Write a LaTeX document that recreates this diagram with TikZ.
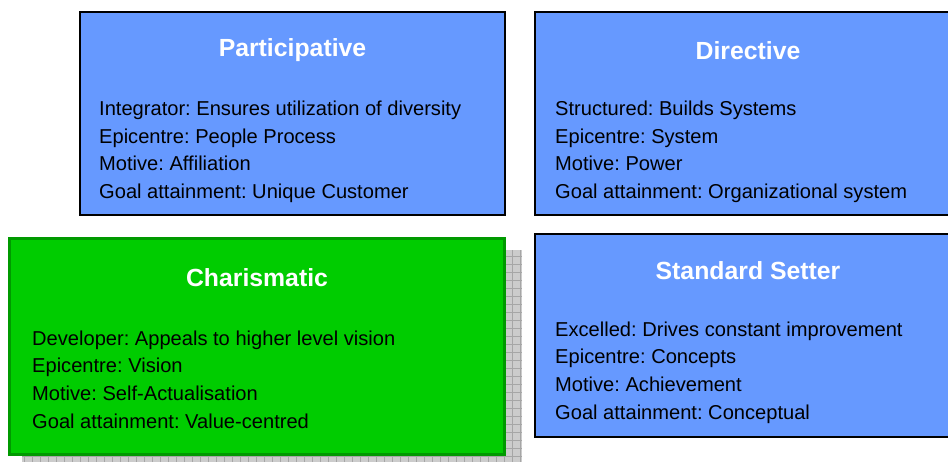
\documentclass[tikz,border=0pt]{standalone}
\usepackage{fontspec}
\setmainfont{Liberation Sans}
\usepackage{xcolor}
\definecolor{boxblue}{HTML}{6699FF}
\definecolor{boxgreen}{HTML}{00CC00}
\definecolor{edgegreen}{HTML}{009900}
\definecolor{shadowgray}{HTML}{CCCCCC}
\definecolor{gridgray}{HTML}{A6A6A6}
\frenchspacing
\tikzset{
  every picture/.style={line join=miter},
  bluebox/.style={draw=black, line width=1.2pt, fill=boxblue, inner sep=0pt},
  greenbox/.style={draw=edgegreen, line width=3pt, fill=boxgreen, inner sep=0pt},
  titletext/.style={text=white, font=\fontsize{24.8}{28}\selectfont\bfseries, inner sep=0pt},
  bodytext/.style={text=black, font=\fontsize{20.1}{27.6}\selectfont, align=left, anchor=west, inner sep=0pt},
  gridline/.style={draw=gridgray, line width=0.6pt},
}
\begin{document}
\begin{tikzpicture}[x=1pt,y=-1pt]
\useasboundingbox (0,0) rectangle (948,463);
\fill[shadowgray] (22,250) rectangle (522,462);
\foreach \gx in {24,32,...,520} \draw[gridline] (\gx,250) -- (\gx,462);
\foreach \gy in {256,264,...,460} \draw[gridline] (22,\gy) -- (522,\gy);
\node[bluebox, minimum width=425, minimum height=203] (partbox) at (292.5,113.5) {};
\node[bluebox, minimum width=420, minimum height=203] (dirbox) at (745,113.5) {};
\node[greenbox, minimum width=495, minimum height=216] (charbox) at (257,346.5) {};
\node[bluebox, minimum width=420, minimum height=203] (stdbox) at (745,335.5) {};
\node[titletext] (parttitle) at (292.5,50.5) {Participative};
\node[titletext] (dirtitle) at (748,50.5) {Directive};
\node[titletext] (chartitle) at (257,277.5) {Charismatic};
\node[titletext] (stdtitle) at (748,271) {Standard Setter};
\node[bodytext] (parttext) at (99,152) {Integrator: Ensures utilization of diversity\\Epicentre: People Process\\Motive: Affiliation\\Goal attainment: Unique Customer};
\node[bodytext] (dirtext) at (555,152) {Structured: Builds Systems\\Epicentre: System\\Motive: Power\\Goal attainment: Organizational system};
\node[bodytext] (chartext) at (32,379.5) {Developer: Appeals to higher level vision\\Epicentre: Vision\\Motive: Self-Actualisation\\Goal attainment: Value-centred};
\node[bodytext] (stdtext) at (555,372.5) {Excelled: Drives constant improvement\\Epicentre: Concepts\\Motive: Achievement\\Goal attainment: Conceptual};
\end{tikzpicture}
\end{document}
